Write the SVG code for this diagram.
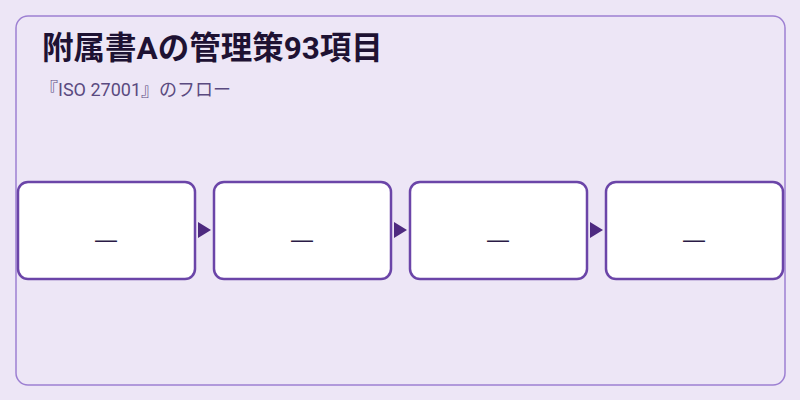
<svg xmlns="http://www.w3.org/2000/svg" width="800" height="400" viewBox="0 0 800 400">
<style>
.title{font-family:Roboto,"Noto Sans CJK JP",sans-serif;font-weight:700;font-size:31.5px;fill:#1e1233}
.sub{font-family:Roboto,"Noto Sans CJK JP",sans-serif;font-size:18px;fill:#5a4a80}
.box{fill:#ffffff;stroke:#6b45a8;stroke-width:2.5}
.lbl{font-family:"Liberation Sans","Noto Sans CJK JP",sans-serif;font-size:22px;fill:#2a1a45;text-anchor:middle}
.head{fill:#4e2a80}
</style>
<rect x="0" y="0" width="800" height="400" fill="#ede6f6"/>
<rect x="16" y="16" width="769" height="369" rx="12" fill="#ede6f6" stroke="#9d80d2" stroke-width="1.5"/>
<text class="title" x="42" y="59">附属書Aの管理策93項目</text>
<text class="sub" x="40" y="96">『ISO 27001』のフロー</text>
<g id="connectors">
<path class="head" d="M198,222 L211,230 L198,238 Z"/>
<path class="head" d="M394,222 L407,230 L394,238 Z"/>
<path class="head" d="M590,222 L603,230 L590,238 Z"/>
</g>
<g id="node1"><rect class="box" x="18" y="182" width="177" height="97" rx="10"/><text class="lbl" x="106" y="246.5">—</text></g>
<g id="node2"><rect class="box" x="214" y="182" width="177" height="97" rx="10"/><text class="lbl" x="302" y="246.5">—</text></g>
<g id="node3"><rect class="box" x="410" y="182" width="177" height="97" rx="10"/><text class="lbl" x="498" y="246.5">—</text></g>
<g id="node4"><rect class="box" x="606" y="182" width="177" height="97" rx="10"/><text class="lbl" x="694" y="246.5">—</text></g>
</svg>
